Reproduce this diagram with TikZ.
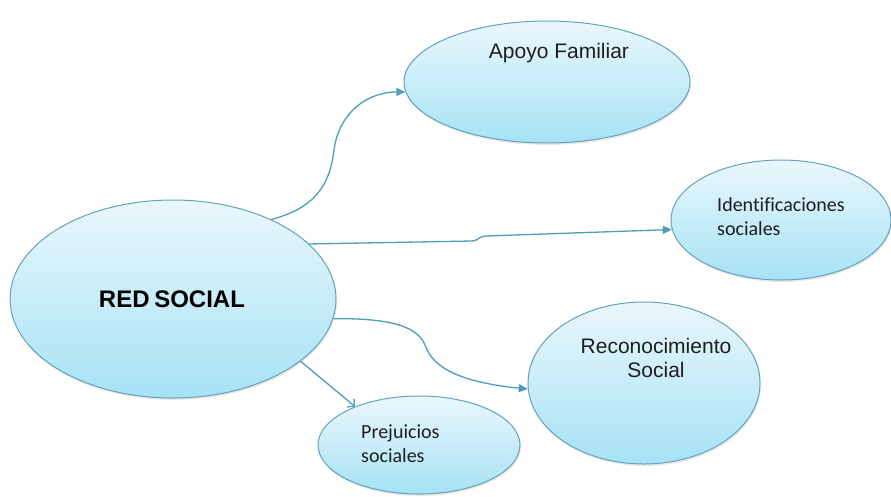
\documentclass[tikz,border=0pt]{standalone}
\usepackage{fontspec}
\setmainfont{Liberation Sans}
\newfontfamily\calibri[Ligatures=NoCommon]{Carlito}
\usetikzlibrary{shapes.geometric,arrows.meta,shadows}

\definecolor{bubbletop}{HTML}{EAF7FC}
\definecolor{bubblebot}{HTML}{A6E2F5}
\definecolor{bubbleedge}{HTML}{62A3BB}
\definecolor{linkcol}{HTML}{4E9DB9}
\definecolor{inkcol}{HTML}{1E1E1E}

\tikzset{
  bubble/.style={ellipse, draw=bubbleedge, line width=1pt, inner sep=0pt,
    top color=bubbletop, bottom color=bubblebot,
    drop shadow={shadow xshift=1pt, shadow yshift=-2pt, opacity=.18}},
  link/.style={draw=linkcol, line width=1.3pt,
    -{Triangle[length=9pt,width=8pt]}},
  openlink/.style={draw=linkcol, line width=1.3pt,
    -{Straight Barb[length=5pt,width=11pt]}},
  arialtxt/.style={text=inkcol, font=\fontsize{21}{24}\selectfont, inner sep=0pt},
  calitxt/.style={text=inkcol, font=\calibri\fontsize{20}{24}\selectfont, inner sep=0pt, align=left}
}

\begin{document}
\begin{tikzpicture}[x=1pt, y=-1pt]
  \useasboundingbox (0,0) rectangle (891,496);

  % bubbles
  \node[bubble, minimum width=326pt, minimum height=198pt] (red)   at (173,299) {};
  \node[bubble, minimum width=286pt, minimum height=122pt] (apoyo) at (547,82)  {};
  \node[bubble, minimum width=220pt, minimum height=120pt] (ident) at (781,220) {};
  \node[bubble, minimum width=232pt, minimum height=162pt] (rec)   at (644,383) {};
  \node[bubble, minimum width=202pt, minimum height=98pt]  (prej)  at (419,445) {};

  % labels (two-line labels are placed by the baseline of their last line)
  \node[text=black, inner sep=0pt, anchor=base, font=\bfseries\fontsize{24}{28}\selectfont]
    (tred) at (172,307) {RED\hspace{-2pt} SOCIAL};
  \node[arialtxt, anchor=base] (tapoyo) at (559,58) {Apoyo Familiar};
  \node[calitxt, anchor=base west] (tident) at (717,235) {Identificaciones\\sociales};
  \node[arialtxt, anchor=base, align=center] (trec) at (656,377) {Reconocimiento\\Social};
  \node[calitxt, anchor=base west] (tprej) at (361,462) {Prejuicios\\sociales};

  % connectors
  \draw[link] (red.39) .. controls (315,208) and (330,185) .. (334,150)
                       .. controls (339,112) and (368,92) .. (apoyo.184);
  \draw[link] (red.22) -- (472,241) .. controls (478,241) and (479,236) .. (486,236)
                       -- (ident.185);
  \draw[link] (red.-7.5) .. controls (395,318) and (418,328) .. (425,345)
                         .. controls (433,368) and (460,382) .. (rec.183);
  \draw[openlink] (red.-26) -- (prej.149);
\end{tikzpicture}
\end{document}
